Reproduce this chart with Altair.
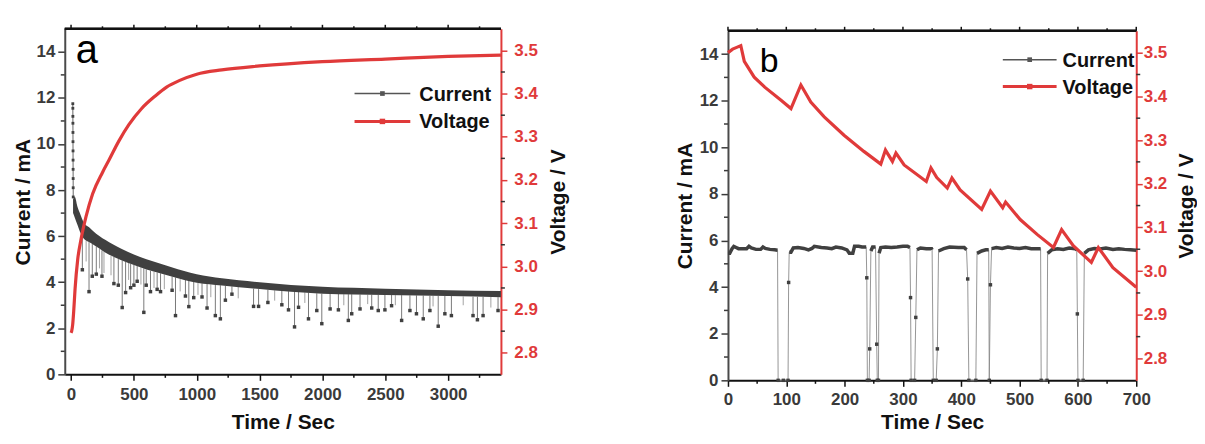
import altair as alt
import pandas as pd

FONT = "Liberation Sans"
RED = "#E03A3A"
DARK = "#404040"
INK = "#111111"
LABEL = "#3A3A3A"

# ---------------- panel a : current band (upper / lower edge of the dense noisy trace) ----------------
a_band_t = [16, 30, 50, 70, 100, 150, 200, 300, 400, 500, 600, 700, 800, 1000, 1200, 1500, 2000, 2500, 3000, 3420]
a_band_hi = [7.6, 7.7, 7.3, 7.0, 6.6, 6.35, 6.1, 5.75, 5.45, 5.2, 5.0, 4.82, 4.65, 4.35, 4.17, 4.0, 3.8, 3.72, 3.65, 3.62]
a_band_lo = [7.0, 6.8, 6.5, 6.2, 5.9, 5.72, 5.55, 5.2, 4.95, 4.75, 4.55, 4.4, 4.25, 3.98, 3.86, 3.7, 3.5, 3.45, 3.4, 3.35]

# initial spike (dotted column at the start)
a_spike_t = [14.0, 14.3, 14.6, 14.9, 15.2, 15.5, 15.8, 16.1, 16.4, 16.7, 17.0, 17.3]
a_spike_i = [11.75, 11.55, 11.2, 10.9, 10.5, 10.1, 9.7, 9.3, 8.9, 8.5, 8.1, 7.7]

# dips with a visible point: (time, band value, dip value)
a_dips = [(90, 6.0, 4.54), (143, 5.74, 3.59), (169, 5.66, 4.26), (201, 5.55, 4.35), (246, 5.38, 4.26),
          (341, 5.1, 3.94), (376, 5.0, 3.87), (407, 4.94, 2.9), (434, 4.88, 3.55), (474, 4.8, 3.76),
          (500, 4.75, 3.87), (526, 4.7, 4.04), (579, 4.6, 2.69), (598, 4.55, 3.87), (632, 4.5, 3.59),
          (685, 4.42, 3.69), (712, 4.39, 3.59), (804, 4.25, 3.65), (831, 4.21, 2.55), (910, 4.1, 3.40),
          (937, 4.06, 2.94), (976, 4.01, 3.33), (1042, 3.95, 3.36), (1082, 3.93, 2.88), (1148, 3.89, 2.55),
          (1188, 3.87, 2.41), (1228, 3.84, 3.22), (1280, 3.82, 3.48), (1452, 3.72, 2.95), (1492, 3.7, 2.95),
          (1566, 3.67, 3.12), (1677, 3.63, 3.02), (1730, 3.61, 2.8), (1778, 3.59, 2.06), (1810, 3.58, 2.91),
          (1889, 3.55, 2.41), (1955, 3.52, 2.77), (1995, 3.5, 2.2), (2061, 3.49, 2.84), (2127, 3.49, 2.8),
          (2206, 3.48, 2.34), (2233, 3.48, 2.63), (2299, 3.47, 2.84), (2392, 3.46, 2.88), (2444, 3.45, 2.77),
          (2497, 3.45, 2.8), (2550, 3.45, 2.98), (2630, 3.44, 2.34), (2696, 3.43, 2.77), (2748, 3.43, 2.63),
          (2802, 3.42, 2.41), (2855, 3.41, 2.77), (2921, 3.4, 2.09), (2974, 3.4, 2.63), (3026, 3.4, 2.55),
          (3198, 3.37, 2.55), (3233, 3.37, 2.37), (3278, 3.36, 2.55), (3397, 3.35, 2.77)]

# short dips without a visible point
a_ticks = [(120, 5.8, 4.9), (226, 5.46, 4.6), (262, 5.33, 4.4), (318, 5.15, 4.3), (458, 4.84, 4.1),
           (556, 4.65, 3.9), (660, 4.46, 3.75), (742, 4.34, 3.7), (868, 4.15, 3.6), (1010, 3.97, 3.45),
           (1112, 3.91, 3.35), (1330, 3.8, 3.3), (1620, 3.65, 3.2), (1860, 3.56, 3.1), (2170, 3.48, 3.0),
           (2360, 3.46, 3.05), (2580, 3.44, 3.0), (2880, 3.41, 2.95), (3120, 3.38, 3.0), (3340, 3.36, 2.9)]

# voltage during charge
a_volt_t = [0, 5, 13, 21, 32, 53, 79, 119, 172, 251, 300, 380, 460, 560, 672, 760, 860, 1000, 1200,
            1500, 2000, 2500, 3000, 3420]
a_volt_v = [2.846, 2.85, 2.865, 2.895, 2.948, 3.016, 3.062, 3.115, 3.168, 3.218, 3.245, 3.29, 3.328, 3.365,
            3.395, 3.415, 3.43, 3.445, 3.455, 3.464, 3.474, 3.48, 3.486, 3.489]

# ---------------- panel b ----------------
b_current = [(0, 5.45), (3, 5.45), (5, 5.55), (7, 5.65), (10, 5.75), (14, 5.7), (18, 5.65), (25, 5.65),
             (32, 5.65), (36, 5.75), (40, 5.68), (48, 5.62), (56, 5.62), (60, 5.72), (64, 5.66), (72, 5.62),
             (80, 5.6), (85, 5.58), (86, 0), (95, 0), (103, 0), (104, 4.2), (105, 5.5), (108, 5.5),
             (112, 5.68), (120, 5.7), (130, 5.66), (138, 5.6), (144, 5.66), (148, 5.75), (160, 5.7),
             (170, 5.68), (178, 5.65), (185, 5.72), (195, 5.68), (204, 5.6), (208, 5.45), (214, 5.45),
             (217, 5.75), (224, 5.75), (230, 5.72), (237, 5.72), (238, 4.4), (239, 0), (242, 0), (243, 1.35),
             (245, 5.55), (248, 5.72), (253, 5.72), (255, 1.55), (256, 0), (258, 0), (259, 5.45), (262, 5.7),
             (270, 5.72), (280, 5.7), (290, 5.72), (300, 5.75), (308, 5.75), (312, 5.7), (313, 3.55),
             (314, 0), (320, 0), (322, 2.7), (324, 5.6), (330, 5.68), (340, 5.65), (349, 5.65), (350, 5.6),
             (352, 0), (357, 0), (359, 1.35), (361, 5.55), (370, 5.65), (380, 5.72), (395, 5.7), (405, 5.7),
             (409, 5.6), (411, 4.35), (413, 0), (425, 0), (427, 5.45), (435, 5.55), (442, 5.6), (447, 5.6),
             (448, 0), (450, 4.1), (452, 5.65), (460, 5.7), (470, 5.66), (480, 5.72), (490, 5.68),
             (500, 5.66), (510, 5.7), (520, 5.65), (530, 5.65), (536, 5.65), (537, 0), (547, 0), (548, 5.45),
             (555, 5.6), (565, 5.65), (575, 5.62), (585, 5.68), (595, 5.65), (598, 5.6), (599, 2.85),
             (600, 0), (609, 0), (611, 5.45), (618, 5.6), (628, 5.66), (638, 5.64), (648, 5.68), (660, 5.62),
             (670, 5.65), (680, 5.62), (690, 5.6), (700, 5.58)]

b_volt_t = [0, 8, 15, 22, 28, 45, 63, 91, 108, 125, 142, 165, 199, 233, 262, 270, 282, 288, 302, 340, 348,
            358, 376, 384, 398, 435, 450, 471, 476, 501, 530, 558, 572, 592, 623, 635, 660, 700]
b_volt_v = [3.50, 3.508, 3.512, 3.516, 3.48, 3.444, 3.421, 3.391, 3.372, 3.426, 3.387, 3.353, 3.311, 3.274,
            3.245, 3.277, 3.251, 3.27, 3.243, 3.205, 3.236, 3.214, 3.19, 3.213, 3.186, 3.141, 3.183, 3.145,
            3.158, 3.118, 3.084, 3.054, 3.095, 3.058, 3.02, 3.054, 3.008, 2.963]

# tick values
a_xticks = [0, 500, 1000, 1500, 2000, 2500, 3000]
a_xminor = [250, 750, 1250, 1750, 2250, 2750, 3250]
b_xticks = [0, 100, 200, 300, 400, 500, 600, 700]
b_xminor = [50, 150, 250, 350, 450, 550, 650]
i_ticks = [0, 2, 4, 6, 8, 10, 12, 14]
i_minor = [1, 3, 5, 7, 9, 11, 13]
v_ticks = [2.8, 2.9, 3.0, 3.1, 3.2, 3.3, 3.4, 3.5]
v_minor = [2.85, 2.95, 3.05, 3.15, 3.25, 3.35, 3.45]

I_DOMAIN = [0, 15]
V_DOMAIN = [2.75, 3.55]


def bottom_axis(xt, lp, tp):
    return alt.Axis(orient="bottom", values=xt, format="d", title="Time / Sec", grid=False,
                    tickSize=6, tickWidth=1.5, tickColor=INK, domainColor=INK, domainWidth=2,
                    labelFontSize=17, labelFontWeight="bold", labelColor=LABEL, labelPadding=lp,
                    labelFlush=False, labelOverlap=False,
                    titleFontSize=21, titleFontWeight="bold", titleColor=INK, titlePadding=tp)


def left_axis(tp):
    return alt.Axis(orient="left", values=i_ticks, format="d", title="Current / mA", grid=False,
                    tickSize=7, tickWidth=1.5, tickColor=LABEL, domainColor="#4a4a4a", domainWidth=2,
                    labelFontSize=17, labelFontWeight="bold", labelColor=LABEL, labelPadding=3,
                    titleFontSize=21, titleFontWeight="bold", titleColor=INK, titlePadding=tp)


def right_axis(lp, tp):
    return alt.Axis(orient="right", values=v_ticks, format=".1f", title="Voltage / V", grid=False,
                    tickSize=6, tickWidth=1.5, tickColor=RED, domainColor=RED, domainWidth=2,
                    labelFontSize=17, labelFontWeight="bold", labelColor=RED, labelPadding=lp,
                    titleFontSize=21, titleFontWeight="bold", titleColor=INK, titlePadding=tp,
                    titleAngle=270, titleBaseline="top")


def build_panel(W, H, T, x_domain, xt, xm, cur_layers, volt_layers, bot_lp, bot_tp, left_tp,
                right_lp, right_tp, legend_pos, letter_spec):
    xs = alt.Scale(domain=x_domain, nice=False, zero=False)
    isc = alt.Scale(domain=I_DOMAIN, range=[H + T, T], nice=False, zero=False)
    vsc = alt.Scale(domain=V_DOMAIN, range=[H + T, T], nice=False, zero=False)
    xax = bottom_axis(xt, bot_lp, bot_tp)
    lax = left_axis(left_tp)
    rax = right_axis(right_lp, right_tp)

    def X(f="t"):
        return alt.X(f"{f}:Q", scale=xs, axis=xax)

    def YI(f):
        return alt.Y(f"{f}:Q", scale=isc, axis=lax)

    def YV(f):
        return alt.Y(f"{f}:Q", scale=vsc, axis=rax)

    cur = []
    for ch, yf, y2f, extra in cur_layers:
        enc = dict(x=X(), y=YI(yf), **extra)
        if y2f:
            enc["y2"] = alt.Y2(f"{y2f}:Q")
        cur.append(ch.encode(**enc))
    volt = []
    for ch, yf, extra in volt_layers:
        volt.append(ch.encode(x=X(), y=YV(yf), **extra))

    d0 = pd.DataFrame({"k": [0]})
    top_t = pd.DataFrame({"t": xt, "v": [V_DOMAIN[1]] * len(xt)})
    top_m = pd.DataFrame({"t": xm, "v": [V_DOMAIN[1]] * len(xm)})
    top_line = pd.DataFrame({"v": [V_DOMAIN[1]]})
    left_m = pd.DataFrame({"i": i_minor})
    right_m = pd.DataFrame({"v": v_minor})

    # minor ticks on left (current scale) and right (voltage scale)
    cur.append(alt.Chart(left_m).mark_rule(color=LABEL, strokeWidth=1.5).encode(
        y=YI("i"), x=alt.value(-4), x2=alt.value(0)))
    volt.append(alt.Chart(right_m).mark_rule(color="#333333", strokeWidth=1.5).encode(
        y=YV("v"), x=alt.value(W), x2=alt.value(W + 4)))

    # top frame line and top ticks placed through the voltage scale (its upper domain end)
    volt += [
        alt.Chart(top_line).mark_rule(color=INK, strokeWidth=2).encode(
            y=YV("v"), x=alt.value(0), x2=alt.value(W)),
        alt.Chart(top_t).mark_rule(color=INK, strokeWidth=1.5).encode(
            x=X(), y=YV("v"), y2=alt.value(T - 4)),
        alt.Chart(top_m).mark_rule(color=INK, strokeWidth=1.5).encode(
            x=X(), y=YV("v"), y2=alt.value(T - 2.5)),
    ]

    # bottom minor ticks, x through the x scale
    frame = [
        alt.Chart(top_m).mark_rule(color=INK, strokeWidth=1.5).encode(
            x=X(), y=alt.value(H + T), y2=alt.value(H + T + 3.5)),
        alt.Chart(d0).mark_rect(color=INK, opacity=1).encode(
            x=alt.value(0), x2=alt.value(W), y=alt.value(T - 1), y2=alt.value(T + 1)),
    ]

    # top frame line, legend, panel letter
    x0, x1, xsq, yc, yv, tx = legend_pos
    deco = [
        alt.Chart(d0).mark_rule(color=INK, strokeWidth=2).encode(
            x=alt.value(0), x2=alt.value(W), y=alt.value(T)),
        alt.Chart(d0).mark_rule(color="#555555", strokeWidth=1.5).encode(
            x=alt.value(x0), x2=alt.value(x1), y=alt.value(yc)),
        alt.Chart(d0).mark_square(color="#555555", size=22, opacity=1).encode(
            x=alt.value(xsq), y=alt.value(yc)),
        alt.Chart(d0).mark_rule(color=RED, strokeWidth=3).encode(
            x=alt.value(x0), x2=alt.value(x1), y=alt.value(yv)),
        alt.Chart(d0).mark_square(color=RED, size=30, opacity=1).encode(
            x=alt.value(xsq), y=alt.value(yv)),
        alt.Chart(d0).mark_text(text="Current", align="left", baseline="middle", font=FONT, fontSize=20,
                                fontWeight="bold", color=INK).encode(x=alt.value(tx), y=alt.value(yc + 1)),
        alt.Chart(d0).mark_text(text="Voltage", align="left", baseline="middle", font=FONT, fontSize=20,
                                fontWeight="bold", color=INK).encode(x=alt.value(tx), y=alt.value(yv + 1)),
    ]
    ltxt, lx, ly, lsize = letter_spec
    deco.append(alt.Chart(d0).mark_text(text=ltxt, align="left", baseline="alphabetic", font=FONT,
                                        fontSize=lsize, color="#000000").encode(x=alt.value(lx), y=alt.value(ly)))

    cur_group = alt.layer(*cur, *deco)
    volt_group = alt.layer(*volt)
    frame_group = alt.layer(*frame)
    return alt.layer(cur_group, volt_group, frame_group).resolve_scale(
        y="independent").properties(width=W, height=H + T)


# ---------------- panel a ----------------
df_band = pd.DataFrame({"t": a_band_t, "hi": a_band_hi, "lo": a_band_lo})
df_spike = pd.DataFrame({"t": a_spike_t, "i": a_spike_i})
df_dips = pd.DataFrame(a_dips, columns=["t", "top", "low"])
df_tk = pd.DataFrame(a_ticks, columns=["t", "top", "low"])
df_av = pd.DataFrame({"t": a_volt_t, "v": a_volt_v})

panel_a = build_panel(
    438, 347, 15, [-50, 3420], a_xticks, a_xminor,
    cur_layers=[
        (alt.Chart(df_tk).mark_rule(color="#8a8a8a", strokeWidth=0.8), "low", "top", {}),
        (alt.Chart(df_dips).mark_rule(color="#6a6a6a", strokeWidth=0.9), "low", "top", {}),
        (alt.Chart(df_dips).mark_square(color=DARK, size=12, opacity=1), "low", None, {}),
        (alt.Chart(df_band).mark_area(color=DARK, opacity=1, interpolate="monotone"), "lo", "hi", {}),
        (alt.Chart(df_spike).mark_line(color="#666666", strokeWidth=1), "i", None, {}),
        (alt.Chart(df_spike).mark_square(color=DARK, size=8, opacity=1), "i", None, {}),
    ],
    volt_layers=[
        (alt.Chart(df_av).mark_line(color=RED, strokeWidth=3.2, interpolate="monotone"), "v", {}),
    ],
    bot_lp=6, bot_tp=9, left_tp=2, right_lp=7, right_tp=10,
    legend_pos=(291, 347, 319, 80, 108, 356),
    letter_spec=("a", 11, 49, 40),
)

# ---------------- panel b ----------------
df_bc = pd.DataFrame(b_current, columns=["t", "i"])
df_bc["seg"] = (df_bc["i"] < 5).cumsum()
df_base = df_bc[df_bc["i"] >= 5]
df_low = df_bc[df_bc["i"] < 5]
df_bv = pd.DataFrame({"t": b_volt_t, "v": b_volt_v})

panel_b = build_panel(
    410, 351, 17, [0, 700], b_xticks, b_xminor,
    cur_layers=[
        (alt.Chart(df_bc).mark_line(color="#8a8a8a", strokeWidth=0.9), "i", None, {}),
        (alt.Chart(df_base).mark_line(color=DARK, strokeWidth=3.5), "i", None, {"detail": "seg:N"}),
        (alt.Chart(df_low).mark_square(color=DARK, size=12, opacity=1), "i", None, {}),
    ],
    volt_layers=[
        (alt.Chart(df_bv).mark_line(color=RED, strokeWidth=3.2), "v", {}),
    ],
    bot_lp=5, bot_tp=4, left_tp=4, right_lp=1, right_tp=9,
    legend_pos=(276, 330, 303, 46, 73, 336),
    letter_spec=("b", 32, 58, 34),
)

chart = alt.hconcat(panel_a, panel_b, spacing=106).resolve_scale(
    x="independent", y="independent"
).properties(
    padding={"left": 5, "top": 5, "right": 0, "bottom": 0}, background="white"
).configure_view(stroke=None).configure_axis(labelFont=FONT, titleFont=FONT)

chart.save("out.html", embed_options={"renderer": "svg", "actions": False})
